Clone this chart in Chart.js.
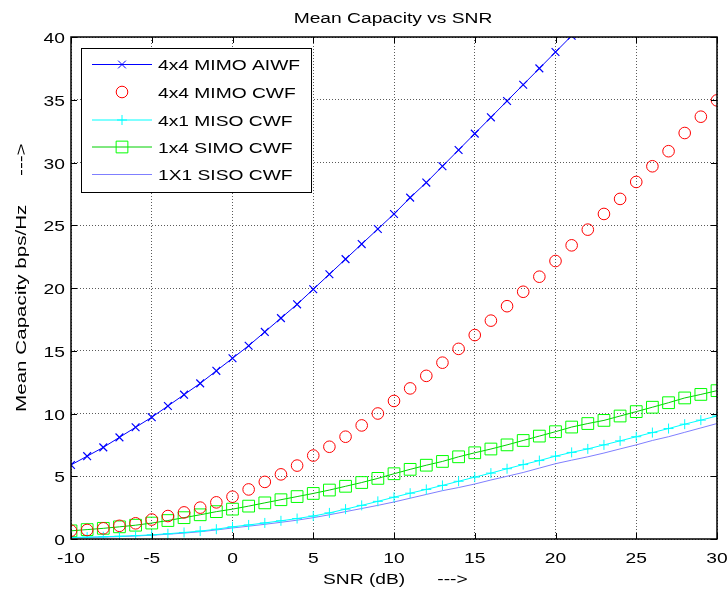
<!DOCTYPE html>
<html>
<head>
<meta charset="utf-8">
<script src="https://cdn.jsdelivr.net/npm/chart.js@4.4.1/dist/chart.umd.min.js"></script>
<style>
  html, body { margin: 0; padding: 0; background: #ffffff; }
  #wrap { width: 728px; height: 594px; }
</style>
</head>
<body>
<div id="wrap"><canvas id="c" width="728" height="594"></canvas></div>
<script>
// ---- data ----
const snr = [-10,-9,-8,-7,-6,-5,-4,-3,-2,-1,0,1,2,3,4,5,6,7,8,9,10,11,12,13,14,15,16,17,18,19,20,21,22,23,24,25,26,27,28,29,30];
const mimoAIWF = [5.9,6.6,7.3,8.1,8.9,9.7,10.6,11.5,12.4,13.4,14.4,15.4,16.5,17.6,18.7,19.9,21.1,22.3,23.5,24.7,25.9,27.2,28.4,29.7,31.0,32.3,33.6,34.9,36.2,37.5,38.8,40.1,41.4];
const mimoCWF = [0.66,0.72,0.85,1.05,1.25,1.55,1.83,2.12,2.5,2.92,3.37,3.95,4.55,5.15,5.85,6.65,7.35,8.15,9.05,10.0,11.0,12.0,13.0,14.05,15.15,16.25,17.4,18.55,19.7,20.9,22.15,23.4,24.65,25.9,27.1,28.45,29.7,30.9,32.35,33.65,34.95];
const misoCWF = [0.12,0.15,0.18,0.22,0.27,0.33,0.42,0.52,0.63,0.78,0.97,1.12,1.28,1.45,1.63,1.83,2.08,2.38,2.68,3.0,3.33,3.65,3.95,4.27,4.6,4.93,5.25,5.6,5.93,6.25,6.6,6.9,7.18,7.5,7.82,8.15,8.48,8.8,9.15,9.47,9.8];
const simoCWF = [0.65,0.75,0.85,0.97,1.1,1.27,1.47,1.7,1.93,2.18,2.38,2.62,2.88,3.13,3.38,3.63,3.9,4.2,4.5,4.83,5.2,5.55,5.88,6.18,6.55,6.87,7.17,7.5,7.85,8.2,8.55,8.92,9.2,9.45,9.8,10.15,10.5,10.86,11.24,11.52,11.82];
const sisoCWF = [0.1,0.12,0.15,0.19,0.24,0.3,0.38,0.47,0.58,0.72,0.88,1.02,1.17,1.33,1.5,1.7,1.93,2.18,2.43,2.68,2.95,3.25,3.55,3.85,4.1,4.38,4.7,5.0,5.3,5.65,6.0,6.28,6.55,6.85,7.18,7.5,7.85,8.15,8.5,8.85,9.2];
const seriesNames = ["4x4 MIMO AIWF","4x4 MIMO CWF","4x1 MISO CWF","1x4 SIMO CWF","1X1 SISO CWF"];
const xTicks = [-10,-5,0,5,10,15,20,25,30];
const yTicks = [0,5,10,15,20,25,30,35,40];
const titleText = "Mean Capacity vs SNR";
const xLabel = "SNR (dB)      --->";
const yLabel = "Mean Capacity bps/Hz     --->";

function pts(vals){ return vals.map((v,i)=>({x:snr[i], y:v})); }

const FONT = "15.5px 'Liberation Sans', Arial, sans-serif";
const SX = 1.24;

function stretchedText(ctx, text, x, y, align, sx) {
  ctx.save();
  ctx.font = FONT;
  const w = ctx.measureText(text).width * sx;
  let x0 = x;
  if (align === 'center') x0 = x - w/2;
  else if (align === 'right') x0 = x - w;
  ctx.translate(x0, y);
  ctx.scale(sx, 1);
  ctx.textAlign = 'left';
  ctx.fillText(text, 0, 0);
  ctx.restore();
}

function drawMarker(ctx, style, r, x, y, color) {
  ctx.save();
  ctx.strokeStyle = color; ctx.lineWidth = 1;
  ctx.beginPath();
  if (style === 'circle') { ctx.arc(x, y, r, 0, Math.PI*2); }
  else if (style === 'rect') { const s = Math.SQRT1_2*r; ctx.rect(x-s, y-s, 2*s, 2*s); }
  else if (style === 'cross') { ctx.moveTo(x-r,y); ctx.lineTo(x+r,y); ctx.moveTo(x,y-r); ctx.lineTo(x,y+r); }
  else if (style === 'crossRot') { const o = r*Math.SQRT1_2; ctx.moveTo(x-o,y-o); ctx.lineTo(x+o,y+o); ctx.moveTo(x-o,y+o); ctx.lineTo(x+o,y-o); }
  ctx.stroke();
  ctx.restore();
}

const datasets = [
  { label: seriesNames[0], data: pts(mimoAIWF), borderColor:'#0000ff', borderWidth:1, showLine:true,
    pointStyle:'crossRot', pointRadius:5.5, pointBorderColor:'#0000ff', pointBorderWidth:1.2, pointBackgroundColor:'rgba(0,0,0,0)' },
  { label: seriesNames[1], data: pts(mimoCWF), borderColor:'#ff0000', borderWidth:1, showLine:false,
    pointStyle:'circle', pointRadius:5.8, pointBorderColor:'#ff0000', pointBorderWidth:1, pointBackgroundColor:'rgba(0,0,0,0)' },
  { label: seriesNames[2], data: pts(misoCWF), borderColor:'#00ffff', borderWidth:1, showLine:true,
    pointStyle:'cross', pointRadius:5, pointBorderColor:'#00ffff', pointBorderWidth:1, pointBackgroundColor:'rgba(0,0,0,0)' },
  { label: seriesNames[3], data: pts(simoCWF), borderColor:'#00d000', borderWidth:1, showLine:true,
    pointStyle:'rect', pointRadius:8.3, pointBorderColor:'#00ff00', pointBorderWidth:1, pointBackgroundColor:'rgba(0,0,0,0)' },
  { label: seriesNames[4], data: pts(sisoCWF), borderColor:'#7f7fff', borderWidth:1, showLine:true,
    pointRadius:0, pointHoverRadius:0 }
];
datasets.forEach(d => { d.tension = 0; d.fill = false; d.pointHoverRadius = 0; });

const overlay = {
  id: 'overlay',
  beforeDraw(chart) {
    const ctx = chart.ctx;
    ctx.save(); ctx.fillStyle = '#ffffff'; ctx.fillRect(0,0,chart.width,chart.height); ctx.restore();
  },
  afterDraw(chart) {
    const ctx = chart.ctx, a = chart.chartArea;
    const xs = chart.scales.x, ys = chart.scales.y;
    ctx.save();
    // frame
    ctx.strokeStyle = '#000000'; ctx.lineWidth = 1.5;
    ctx.strokeRect(a.left, a.top, a.right - a.left, a.bottom - a.top);
    // inward ticks
    ctx.lineWidth = 1;
    ctx.beginPath();
    const tl = 6;
    xTicks.forEach(v => { const p = Math.round(xs.getPixelForValue(v)) + 0.5;
      ctx.moveTo(p, a.bottom); ctx.lineTo(p, a.bottom - tl);
      ctx.moveTo(p, a.top); ctx.lineTo(p, a.top + tl); });
    yTicks.forEach(v => { const p = Math.round(ys.getPixelForValue(v)) + 0.5;
      ctx.moveTo(a.left, p); ctx.lineTo(a.left + tl, p);
      ctx.moveTo(a.right, p); ctx.lineTo(a.right - tl, p); });
    ctx.stroke();
    // tick labels
    ctx.fillStyle = '#000000';
    ctx.textBaseline = 'alphabetic';
    xTicks.forEach(v => stretchedText(ctx, String(v), xs.getPixelForValue(v), 563, 'center', SX));
    yTicks.forEach(v => stretchedText(ctx, String(v), 65, ys.getPixelForValue(v) + 6, 'right', SX));
    // title & axis labels
    stretchedText(ctx, titleText, 393, 23, 'center', SX);
    stretchedText(ctx, xLabel, 323, 584, 'left', SX);
    ctx.save();
    ctx.translate(26, 412);
    ctx.rotate(-Math.PI/2);
    stretchedText(ctx, yLabel, 0, 0, 'left', 1.33);
    ctx.restore();
    // legend
    const lx = 81, ly = 48, lw = 230, lh = 144;
    ctx.fillStyle = '#ffffff';
    ctx.fillRect(lx, ly, lw, lh);
    ctx.strokeStyle = '#000000'; ctx.lineWidth = 1;
    ctx.strokeRect(lx + 0.5, ly + 0.5, lw, lh);
    const rows = [64.5, 92, 120, 147, 174.5];
    chart.data.datasets.forEach((d, i) => {
      const y = rows[i];
      if (d.showLine !== false) {
        ctx.strokeStyle = d.borderColor; ctx.lineWidth = d.borderWidth;
        ctx.beginPath(); ctx.moveTo(92, y); ctx.lineTo(152, y); ctx.stroke();
      }
      if (d.pointRadius > 0) drawMarker(ctx, d.pointStyle, d.pointRadius, 122, y, d.pointBorderColor);
      ctx.fillStyle = '#000000';
      stretchedText(ctx, d.label, 158, y + 5.5, 'left', SX);
    });
    ctx.restore();
  }
};

new Chart(document.getElementById('c'), {
  type: 'line',
  data: { datasets },
  options: {
    responsive: false,
    devicePixelRatio: 1,
    animation: false,
    events: [],
    layout: { padding: { top: 37, right: 11, left: 0, bottom: 0 } },
    plugins: { legend: { display: false }, title: { display: false }, tooltip: { enabled: false } },
    scales: {
      x: {
        type: 'linear', min: -10, max: 30,
        ticks: { display: false, stepSize: 5 },
        grid: { color: '#5a5a5a', lineWidth: 1, drawTicks: false },
        border: { display: false, dash: [1, 2] },
        afterFit(s) { s.height = 55; }
      },
      y: {
        type: 'linear', min: 0, max: 40,
        ticks: { display: false, stepSize: 5 },
        grid: { color: '#5a5a5a', lineWidth: 1, drawTicks: false },
        border: { display: false, dash: [1, 2] },
        afterFit(s) { s.width = 71; }
      }
    }
  },
  plugins: [overlay]
});
</script>
</body>
</html>
